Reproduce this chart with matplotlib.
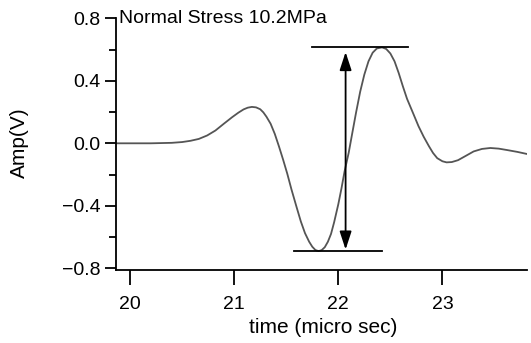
import matplotlib
matplotlib.use("Agg")
import matplotlib.pyplot as plt

plt.rcParams["font.family"] = ["Liberation Sans", "DejaVu Sans"]

# Datos (tiempo en micro seg, amplitud en V)
tiempo = [19.87, 20.20, 20.40, 20.50, 20.58, 20.66, 20.74, 20.82, 20.90, 20.98,
          21.04, 21.09, 21.13, 21.17, 21.21, 21.25, 21.28, 21.31, 21.35, 21.39,
          21.43, 21.47, 21.51, 21.55, 21.60, 21.64, 21.68, 21.72, 21.75, 21.78,
          21.81, 21.84, 21.87, 21.90, 21.93, 21.96, 22.00, 22.03, 22.06, 22.10,
          22.13, 22.17, 22.21, 22.25, 22.29, 22.33, 22.37, 22.42, 22.46, 22.50,
          22.54, 22.58, 22.62, 22.66, 22.72, 22.77, 22.82, 22.87, 22.91, 22.95,
          23.00, 23.04, 23.09, 23.15, 23.22, 23.30, 23.38, 23.46, 23.54, 23.62,
          23.72, 23.81]
amp = [0.000, 0.000, 0.003, 0.008, 0.016, 0.028, 0.050, 0.082, 0.125, 0.167,
       0.196, 0.217, 0.228, 0.233, 0.230, 0.218, 0.198, 0.170, 0.125, 0.060,
       -0.020, -0.105, -0.195, -0.295, -0.410, -0.500, -0.575, -0.630, -0.662, -0.683,
       -0.690, -0.684, -0.665, -0.630, -0.580, -0.505, -0.390, -0.290, -0.180, -0.060,
       0.050, 0.195, 0.330, 0.440, 0.525, 0.580, 0.607, 0.614, 0.604, 0.575,
       0.525, 0.450, 0.365, 0.285, 0.190, 0.110, 0.042, -0.018, -0.062, -0.095,
       -0.115, -0.122, -0.120, -0.108, -0.082, -0.052, -0.036, -0.030, -0.034, -0.043,
       -0.055, -0.068]

titulo = "Normal Stress 10.2MPa"
yticks_may = [-0.8, -0.4, 0.0, 0.4, 0.8]
yticks_men = [-0.6, -0.2, 0.2, 0.6]
xticks = [20, 21, 22, 23]

# amplitud pico a pico
pico = max(amp)
valle = min(amp)
x_flecha = 22.07
linea_sup = (21.75, 22.67)
linea_inf = (21.57, 22.42)

fig = plt.figure(figsize=(5.31, 3.43), dpi=100)
ax = fig.add_axes([0.2185, 0.2137, 0.992 - 0.2185, 0.9466 - 0.2137])

ax.plot(tiempo, amp, color="#555555", lw=1.3)

ax.plot(linea_sup, [pico, pico], color="black", lw=1.3)
ax.plot(linea_inf, [valle, valle], color="black", lw=1.3)
ax.annotate("", xy=(x_flecha, valle + 0.01), xytext=(x_flecha, pico - 0.03),
            arrowprops=dict(arrowstyle="<|-|>,head_length=0.55,head_width=0.18",
                            color="black", lw=1.3, mutation_scale=20,
                            shrinkA=0, shrinkB=0))

ax.text(19.895, 0.8, titulo, fontsize=14, va="center", ha="left")

ax.set_xlim(19.865, 23.81)
ax.set_ylim(-0.809, 0.8)
ax.set_xticks(xticks)
ax.set_yticks(yticks_may)
ax.set_yticks(yticks_men, minor=True)
ax.set_yticklabels([f"{v:.1f}".replace("-", "\u2212") for v in yticks_may])

for s in ["top", "right"]:
    ax.spines[s].set_visible(False)
for s in ["left", "bottom"]:
    ax.spines[s].set_linewidth(1.3)

ax.tick_params(axis="y", which="major", direction="out", length=8, width=1.3,
               labelsize=14, pad=3)
ax.tick_params(axis="y", which="minor", direction="out", length=5, width=1.3)
ax.tick_params(axis="x", which="major", direction="out", length=11, width=1.3,
               labelsize=14, pad=8)

ax.set_ylabel("Amp(V)", fontsize=15, va="center")
ax.set_xlabel("time (micro sec)", fontsize=15, va="center")
ax.yaxis.set_label_coords(-0.234, 0.504)
ax.xaxis.set_label_coords(0.504, -0.228)

fig.savefig("out.png", dpi=100)
